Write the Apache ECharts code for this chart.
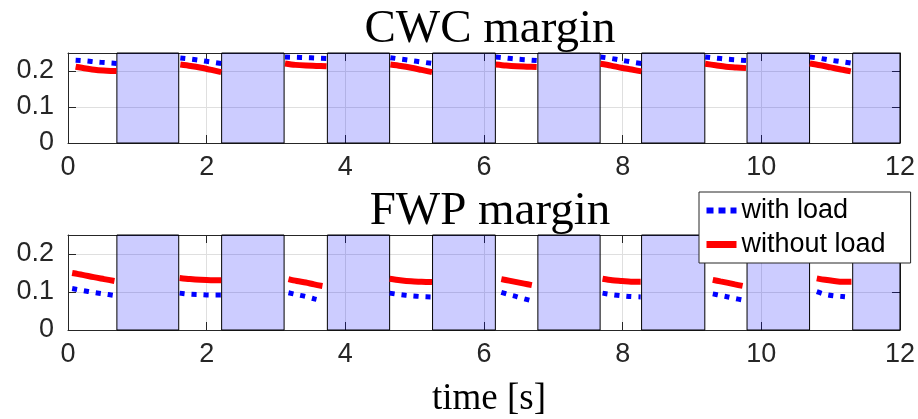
<!DOCTYPE html>
<html>
<head>
<meta charset="utf-8">
<script src="https://cdn.jsdelivr.net/npm/echarts@6/dist/echarts.min.js"></script>
<style>
  html, body { margin: 0; padding: 0; background: #ffffff; }
  #chart { width: 918px; height: 419px; }
</style>
</head>
<body>
<div id="chart"></div>
<script>
// Idle intervals (s), drawn as shaded bands in both panels
const shadeStart = [0.705, 2.216, 3.741, 5.258, 6.777, 8.273, 9.794, 11.318];
const shadeEnd   = [1.597, 3.117, 4.639, 6.164, 7.675, 9.185, 10.696, 12.0];

// Axis ticks
const timeTicks = [0, 2, 4, 6, 8, 10, 12];
const marginTicks = [0, 0.1, 0.2];

// CWC margin: sample times per active stretch (s)
const cwcTimes = [
  [0.11, 0.26, 0.41, 0.56, 0.70],
  [1.62, 1.77, 1.92, 2.07, 2.21],
  [3.13, 3.28, 3.43, 3.58, 3.73],
  [4.65, 4.80, 4.95, 5.10, 5.25],
  [6.17, 6.32, 6.47, 6.62, 6.76],
  [7.68, 7.83, 7.98, 8.13, 8.27],
  [9.19, 9.34, 9.49, 9.64, 9.78],
  [10.70, 10.85, 11.00, 11.15, 11.29]
];
const cwcWithLoad = [
  [0.230, 0.228, 0.225, 0.223, 0.221],
  [0.236, 0.233, 0.229, 0.225, 0.221],
  [0.239, 0.238, 0.237, 0.236, 0.235],
  [0.237, 0.233, 0.229, 0.225, 0.221],
  [0.239, 0.236, 0.233, 0.231, 0.229],
  [0.239, 0.235, 0.230, 0.225, 0.221],
  [0.239, 0.236, 0.233, 0.231, 0.229],
  [0.239, 0.235, 0.230, 0.226, 0.222]
];
const cwcWithoutLoad = [
  [0.212, 0.207, 0.203, 0.201, 0.200],
  [0.218, 0.214, 0.209, 0.203, 0.197],
  [0.221, 0.217, 0.215, 0.214, 0.213],
  [0.218, 0.214, 0.209, 0.203, 0.197],
  [0.218, 0.215, 0.213, 0.212, 0.211],
  [0.220, 0.215, 0.209, 0.204, 0.199],
  [0.220, 0.216, 0.212, 0.210, 0.208],
  [0.221, 0.216, 0.210, 0.204, 0.199]
];

// FWP margin: sample times per active stretch (s)
const fwpTimes = [
  [0.06, 0.21, 0.37, 0.52, 0.67],
  [1.61, 1.76, 1.91, 2.06, 2.21],
  [3.18, 3.30, 3.43, 3.55, 3.67],
  [4.64, 4.79, 4.95, 5.10, 5.25],
  [6.25, 6.36, 6.47, 6.58, 6.69],
  [7.71, 7.85, 7.99, 8.12, 8.26],
  [9.30, 9.41, 9.52, 9.62, 9.73],
  [10.80, 10.92, 11.05, 11.17, 11.30]
];
const fwpWithLoad = [
  [0.109, 0.104, 0.099, 0.095, 0.091],
  [0.097, 0.094, 0.093, 0.092, 0.092],
  [0.098, 0.093, 0.088, 0.082, 0.077],
  [0.097, 0.093, 0.090, 0.088, 0.087],
  [0.099, 0.093, 0.088, 0.082, 0.077],
  [0.097, 0.093, 0.090, 0.088, 0.087],
  [0.095, 0.091, 0.087, 0.083, 0.079],
  [0.101, 0.094, 0.090, 0.088, 0.086]
];
const fwpWithoutLoad = [
  [0.150, 0.145, 0.139, 0.134, 0.129],
  [0.137, 0.134, 0.132, 0.131, 0.131],
  [0.134, 0.129, 0.125, 0.120, 0.116],
  [0.135, 0.131, 0.128, 0.127, 0.126],
  [0.134, 0.130, 0.126, 0.122, 0.118],
  [0.135, 0.131, 0.129, 0.127, 0.127],
  [0.132, 0.128, 0.124, 0.120, 0.116],
  [0.136, 0.132, 0.129, 0.127, 0.127]
];

const seriesNames = ['with load', 'without load'];
const panelTitles = ['CWC margin', 'FWP margin'];
const xAxisTitle = 'time [s]';

// ---- helpers -------------------------------------------------------------
// Join the stretches into one polyline, broken between stretches
function joinStretches(times, values) {
  const out = [];
  times.forEach((ts, i) => {
    ts.forEach((t, j) => out.push([t, values[i][j]]));
    if (i < times.length - 1) out.push([ts[ts.length - 1], '-']);
  });
  return out;
}

const AXIS_COLOR = '#262626';
const GRID_COLOR = '#dfdfdf';
const TICK_FONT = { fontFamily: 'Liberation Sans', fontSize: 27, color: AXIS_COLOR };
const SERIF = 'Liberation Serif';

function timeAxis(gridIndex, position) {
  const main = position === 'bottom';
  return {
    type: 'value', gridIndex, position,
    min: timeTicks[0], max: timeTicks[timeTicks.length - 1],
    interval: timeTicks[1] - timeTicks[0],
    axisLine: { show: true, onZero: false, lineStyle: { color: AXIS_COLOR, width: 1 } },
    axisTick: { show: true, inside: true, length: 8, lineStyle: { color: AXIS_COLOR, width: 1 } },
    axisLabel: main ? Object.assign({ show: true, margin: 11 }, TICK_FONT) : { show: false },
    splitLine: { show: main, lineStyle: { color: GRID_COLOR, width: 1 } }
  };
}

function marginAxis(gridIndex, position) {
  const main = position === 'left';
  return {
    type: 'value', gridIndex, position,
    min: 0, max: 0.25,
    interval: marginTicks[1] - marginTicks[0],
    axisLine: { show: true, onZero: false, lineStyle: { color: AXIS_COLOR, width: 1 } },
    axisTick: { show: true, inside: true, length: 8, lineStyle: { color: AXIS_COLOR, width: 1 } },
    axisLabel: main ? Object.assign({ show: true, margin: 14, showMaxLabel: false,
      formatter: v => String(+v.toFixed(2)) }, TICK_FONT) : { show: false },
    splitLine: { show: main, lineStyle: { color: GRID_COLOR, width: 1 } }
  };
}

function shadeSeries(axisBase) {
  return {
    type: 'line', data: [], silent: true,
    xAxisIndex: axisBase, yAxisIndex: axisBase,
    markArea: {
      silent: true,
      label: { show: false },
      itemStyle: { color: 'rgba(0,0,255,0.2)', borderColor: '#000', borderWidth: 1 },
      emphasis: { disabled: true },
      data: shadeStart.map((s, i) => [{ xAxis: s }, { xAxis: shadeEnd[i] }])
    }
  };
}

const DOTTED = { color: '#0000ff', width: 5, type: [5, 7], cap: 'butt' };
const SOLID = { color: '#ff0000', width: 6, type: 'solid', cap: 'butt' };

function curve(name, axisBase, data, lineStyle) {
  return {
    name, type: 'line', data, z: 3,
    xAxisIndex: axisBase, yAxisIndex: axisBase,
    symbol: 'none', smooth: 0.3, connectNulls: false,
    color: lineStyle.color,
    lineStyle, emphasis: { disabled: true }, animation: false
  };
}

const chart = echarts.init(document.getElementById('chart'), null, { renderer: 'canvas' });

chart.setOption({
  animation: false,
  backgroundColor: '#ffffff',
  title: [
    { text: panelTitles[0], left: 485, top: 1, textAlign: 'center',
      textStyle: { fontFamily: SERIF, fontSize: 47, fontWeight: 'normal', color: '#000' } },
    { text: panelTitles[1], left: 485, top: 183, textAlign: 'center',
      textStyle: { fontFamily: SERIF, fontSize: 47, fontWeight: 'normal', color: '#000' } },
    { text: xAxisTitle, left: 484, top: 376, textAlign: 'center',
      textStyle: { fontFamily: SERIF, fontSize: 37, fontWeight: 'normal', color: '#000' } }
  ],
  legend: {
    data: [
      { name: seriesNames[0], lineStyle: { width: 6, type: [7, 5], cap: 'butt' } },
      { name: seriesNames[1], lineStyle: { width: 7, type: 'solid' } }
    ],
    orient: 'vertical',
    left: 699, top: 192,
    padding: [5, 25, 5, 4],
    itemGap: 7,
    itemWidth: 30, itemHeight: 14,
    itemStyle: { opacity: 0, borderWidth: 0 },
    backgroundColor: '#ffffff',
    borderColor: AXIS_COLOR, borderWidth: 1, borderRadius: 0,
    selectedMode: false,
    textStyle: { fontFamily: 'Liberation Sans', fontSize: 27, color: '#000' },
    z: 10
  },
  grid: [
    { left: 68, right: 16, top: 53, height: 90, containLabel: false },
    { left: 68, right: 16, top: 235, height: 95, containLabel: false }
  ],
  xAxis: [timeAxis(0, 'bottom'), timeAxis(0, 'top'), timeAxis(1, 'bottom'), timeAxis(1, 'top')],
  yAxis: [marginAxis(0, 'left'), marginAxis(0, 'right'), marginAxis(1, 'left'), marginAxis(1, 'right')],
  series: [
    shadeSeries(0),
    shadeSeries(2),
    curve(seriesNames[0], 0, joinStretches(cwcTimes, cwcWithLoad), DOTTED),
    curve(seriesNames[1], 0, joinStretches(cwcTimes, cwcWithoutLoad), SOLID),
    curve(seriesNames[0], 2, joinStretches(fwpTimes, fwpWithLoad), DOTTED),
    curve(seriesNames[1], 2, joinStretches(fwpTimes, fwpWithoutLoad), SOLID)
  ]
});
</script>
</body>
</html>
